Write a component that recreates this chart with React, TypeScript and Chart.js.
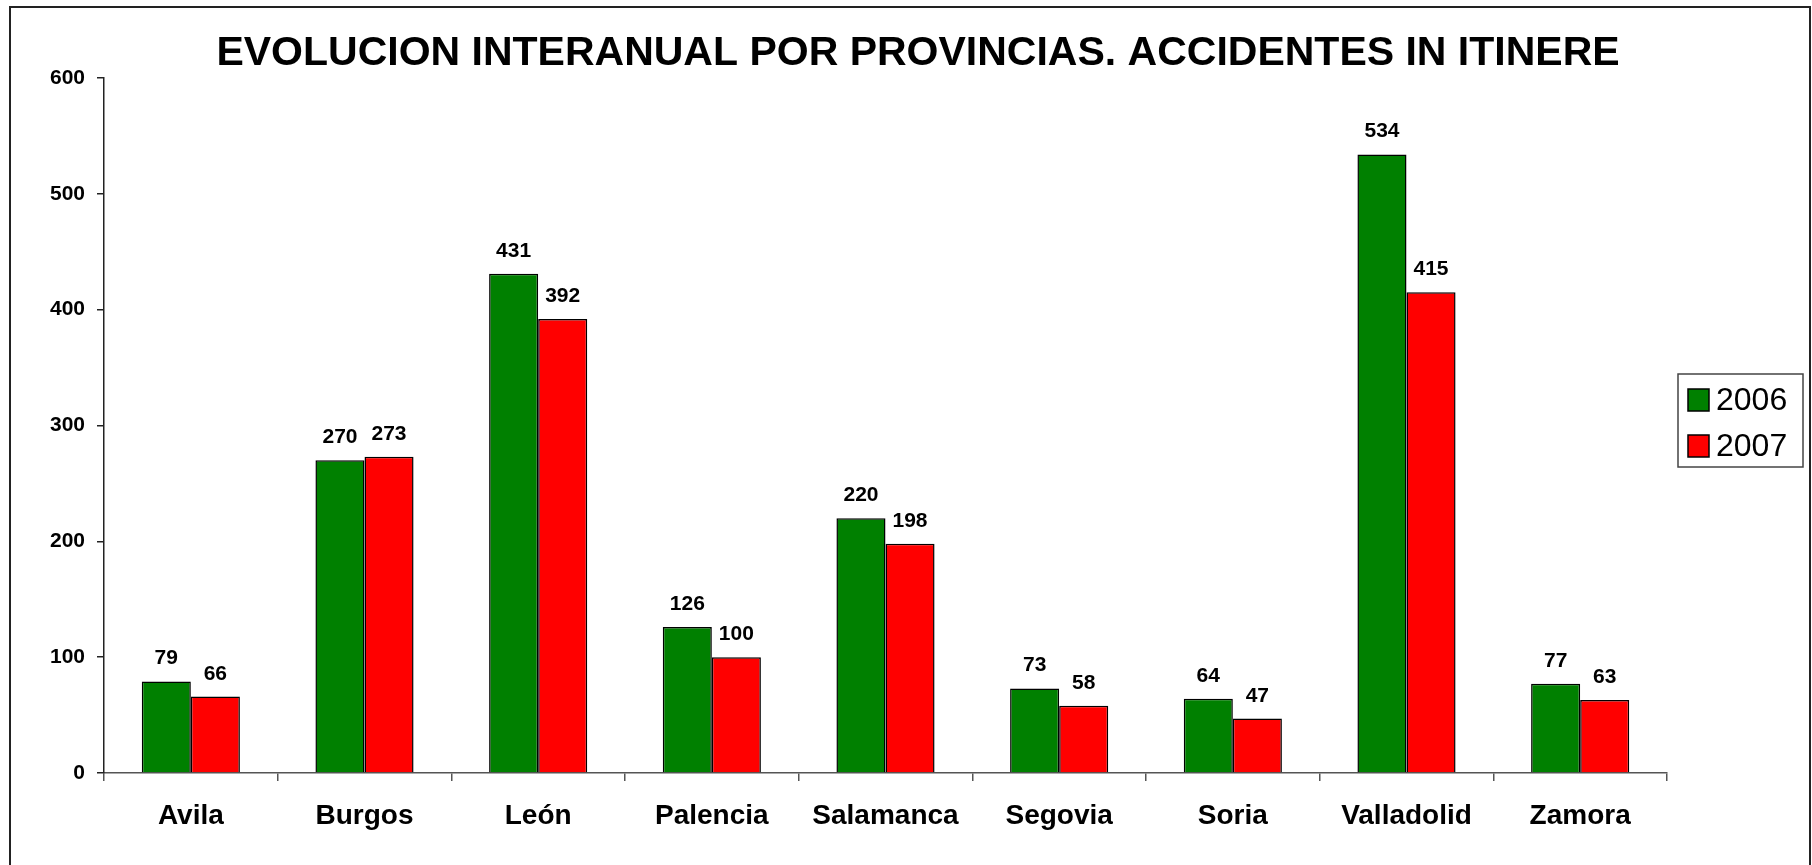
import React, { useEffect, useRef } from "react";
import { Chart, registerables } from "chart.js";

Chart.register(...registerables);

const TITLE = "EVOLUCION INTERANUAL POR PROVINCIAS. ACCIDENTES IN ITINERE";
const categories = ["Avila", "Burgos", "León", "Palencia", "Salamanca", "Segovia", "Soria", "Valladolid", "Zamora"];
const seriesNames = ["2006", "2007"];
const values2006 = [79, 270, 431, 126, 220, 73, 64, 534, 77];
const values2007 = [66, 273, 392, 100, 198, 58, 47, 415, 63];
const seriesColors = ["#008000", "#FF0000"];
const yTicks = [0, 100, 200, 300, 400, 500, 600];

const FONT = '"Liberation Sans", Arial, sans-serif';

const framePlugin = {
  id: "frame",
  beforeDraw(chart: any) {
    const ctx = chart.ctx;
    ctx.save();
    ctx.fillStyle = "#fff";
    ctx.fillRect(0, 0, chart.width, chart.height);
    ctx.strokeStyle = "#222";
    ctx.lineWidth = 2;
    ctx.strokeRect(10, 7, 1800, 1000);
    ctx.restore();
  },
};

const titlePlugin = {
  id: "customTitle",
  afterDraw(chart: any) {
    const ctx = chart.ctx;
    ctx.save();
    ctx.fillStyle = "#000";
    ctx.font = `bold 41px ${FONT}`;
    ctx.textAlign = "center";
    ctx.textBaseline = "alphabetic";
    ctx.fillText(TITLE, 918, 65);
    ctx.restore();
  },
};

const valueLabelPlugin = {
  id: "valueLabels",
  afterDatasetsDraw(chart: any) {
    const ctx = chart.ctx;
    ctx.save();
    ctx.fillStyle = "#000";
    ctx.font = `bold 21px ${FONT}`;
    ctx.textAlign = "center";
    ctx.textBaseline = "alphabetic";
    chart.data.datasets.forEach((ds: any, i: number) => {
      const meta = chart.getDatasetMeta(i);
      meta.data.forEach((bar: any, j: number) => {
        ctx.fillText(String(ds.data[j]), bar.x, bar.y - 17);
      });
    });
    ctx.restore();
  },
};

const legendPlugin = {
  id: "boxLegend",
  afterDraw(chart: any) {
    const ctx = chart.ctx;
    ctx.save();
    ctx.strokeStyle = "#444";
    ctx.lineWidth = 1.5;
    ctx.fillStyle = "#fff";
    ctx.fillRect(1678, 374, 125, 93);
    ctx.strokeRect(1678, 374, 125, 93);
    ctx.font = `32px ${FONT}`;
    ctx.textBaseline = "middle";
    ctx.textAlign = "left";
    chart.data.datasets.forEach((ds: any, i: number) => {
      const cy = 400 + i * 46;
      ctx.fillStyle = ds.backgroundColor;
      ctx.fillRect(1688, cy - 11, 21, 22);
      ctx.strokeStyle = "#000";
      ctx.lineWidth = 1.5;
      ctx.strokeRect(1688, cy - 11, 21, 22);
      ctx.fillStyle = "#000";
      ctx.fillText(ds.label, 1716, cy + 1);
    });
    ctx.restore();
  },
};

export default function App() {
  const ref = useRef<HTMLCanvasElement | null>(null);

  useEffect(() => {
    if (!ref.current) return;
    const chart = new Chart(ref.current, {
      type: "bar",
      data: {
        labels: categories,
        datasets: [
          {
            label: seriesNames[0],
            data: values2006,
            backgroundColor: seriesColors[0],
            borderColor: "#000",
            borderWidth: 1.5,
            categoryPercentage: 0.565,
            barPercentage: 1,
          },
          {
            label: seriesNames[1],
            data: values2007,
            backgroundColor: seriesColors[1],
            borderColor: "#000",
            borderWidth: 1.5,
            categoryPercentage: 0.565,
            barPercentage: 1,
          },
        ],
      },
      options: {
        responsive: false,
        animation: false,
        devicePixelRatio: 1,
        layout: { padding: { top: 78, right: 145, left: 10, bottom: 0 } },
        plugins: {
          legend: { display: false },
          title: { display: false },
          tooltip: { enabled: false },
        },
        scales: {
          x: {
            grid: {
              offset: true,
              drawOnChartArea: false,
              drawTicks: true,
              tickLength: 8,
              color: "#555",
              lineWidth: 1.5,
            },
            border: { display: true, color: "#555", width: 1.5 },
            ticks: {
              color: "#000",
              font: { family: FONT, size: 28, weight: "bold" },
              padding: 18,
              maxRotation: 0,
            },
            afterFit: (s: any) => {
              s.height = 865 - 773;
            },
          },
          y: {
            min: 0,
            max: 600,
            afterBuildTicks: (s: any) => {
              s.ticks = yTicks.map((v) => ({ value: v }));
            },
            grid: {
              drawOnChartArea: false,
              drawTicks: true,
              tickLength: 7,
              color: "#222",
              lineWidth: 1.5,
            },
            border: { display: true, color: "#222", width: 1.5 },
            ticks: {
              color: "#000",
              font: { family: FONT, size: 21, weight: "bold" },
              padding: 12,
            },
            afterFit: (s: any) => {
              s.width = 104 - 10;
            },
          },
        },
      },
      plugins: [framePlugin, valueLabelPlugin, legendPlugin, titlePlugin],
    });
    return () => chart.destroy();
  }, []);

  return (
    <div style={{ position: "absolute", left: 0, top: 0, width: 1812, height: 865 }}>
      <canvas ref={ref} width={1812} height={865} />
    </div>
  );
}
